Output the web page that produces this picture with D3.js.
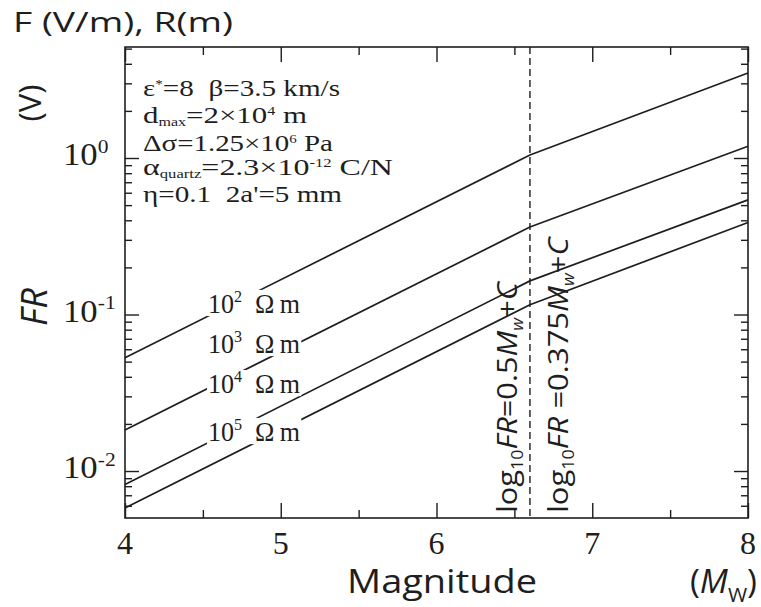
<!DOCTYPE html>
<html><head><meta charset="utf-8">
<script src="https://cdn.jsdelivr.net/npm/d3@7"></script>
<style>html,body{margin:0;padding:0;background:#fff;} svg{display:block;}</style>
</head><body><svg id="c" width="761" height="607"></svg>
<script>
// ---------------- data ----------------
const magnitudes = [4, 6.6, 8];
const resistivityExponents = ["2", "3", "4", "5"];
const frRho1e2 = [0.053, 1.045, 3.49];
const frRho1e3 = [0.0183, 0.362, 1.19];
const frRho1e4 = [0.0082, 0.164, 0.54];
const frRho1e5 = [0.0058, 0.1156, 0.387];
const breakMagnitude = 6.6;
const xMajorTicks = [4, 5, 6, 7, 8];
const xMinorTicks = [4.5, 5.5, 6.5, 7.5];
const xTickLabels = ["4", "5", "6", "7", "8"];
const yMajorTicks = [0.01, 0.1, 1];
const yTickExponents = ["-2", "-1", "0"];
const yMinorTicks = [0.006, 0.007, 0.008, 0.009,
  0.02, 0.03, 0.04, 0.05, 0.06, 0.07, 0.08, 0.09,
  0.2, 0.3, 0.4, 0.5, 0.6, 0.7, 0.8, 0.9, 2, 3, 4, 5];
const xDomain = [4, 8];
const yDomain = [0.00501, 5.12];

// ---------------- layout ----------------
const W = 761, H = 607;
const plot = {left: 125, right: 748, top: 47, bottom: 518};
const ink = "#1e1e1e";
const serif = "'Liberation Serif','Times New Roman',serif";
const sans = "'Open Sans','Noto Sans','DejaVu Sans',sans-serif";

const svg = d3.select("#c");
svg.append("rect").attr("width", W).attr("height", H).attr("fill", "#fff");

const x = d3.scaleLinear().domain(xDomain).range([plot.left, plot.right]);
const y = d3.scaleLog().domain(yDomain).range([plot.bottom, plot.top]);

function rich(sel, parts, size, opt) {
  const o = Object.assign({supShift: 0.40, subShift: 0.28, small: 0.62}, opt || {});
  let shift = 0;
  parts.forEach(p => {
    const ts = sel.append("tspan").text(p.t);
    const target = p.sup ? -size * o.supShift : (p.sub ? size * o.subShift : 0);
    ts.attr("dy", target - shift);
    shift = target;
    if (p.sup || p.sub) ts.attr("font-size", size * o.small);
    if (p.it) ts.attr("font-style", "italic");
  });
}
function fitScale(sel, target) {
  const w = sel.node().getComputedTextLength();
  return target / w;
}

// ---------------- frame + ticks ----------------
svg.append("rect")
  .attr("x", plot.left).attr("y", plot.top)
  .attr("width", plot.right - plot.left).attr("height", plot.bottom - plot.top)
  .attr("fill", "none").attr("stroke", ink).attr("stroke-width", 1.6);

function addAxis(axis, tx, ty) {
  const g = svg.append("g").attr("transform", `translate(${tx},${ty})`).call(axis);
  g.select(".domain").remove();
  g.selectAll("text").remove();
  g.selectAll(".tick line").attr("stroke", ink).attr("stroke-width", 1.4);
}
addAxis(d3.axisBottom(x).tickValues(xMajorTicks).tickSize(-15).tickFormat(""), 0, plot.bottom);
addAxis(d3.axisBottom(x).tickValues(xMinorTicks).tickSize(-8).tickFormat(""), 0, plot.bottom);
addAxis(d3.axisTop(x).tickValues(xMajorTicks).tickSize(-15).tickFormat(""), 0, plot.top);
addAxis(d3.axisTop(x).tickValues(xMinorTicks).tickSize(-8).tickFormat(""), 0, plot.top);
addAxis(d3.axisLeft(y).tickValues(yMajorTicks).tickSize(-14).tickFormat(""), plot.left, 0);
addAxis(d3.axisLeft(y).tickValues(yMinorTicks).tickSize(-7).tickFormat(""), plot.left, 0);
addAxis(d3.axisRight(y).tickValues(yMajorTicks).tickSize(-14).tickFormat(""), plot.right, 0);
addAxis(d3.axisRight(y).tickValues(yMinorTicks).tickSize(-7).tickFormat(""), plot.right, 0);

// x tick labels
xMajorTicks.forEach((v, i) => {
  svg.append("text").attr("x", x(v)).attr("y", 554)
    .attr("text-anchor", "middle").attr("font-family", serif).attr("font-size", 32)
    .attr("fill", ink).text(xTickLabels[i]);
});
// y tick labels
yMajorTicks.forEach((v, i) => {
  const t = svg.append("text").attr("x", 0).attr("y", 0)
    .attr("font-family", serif).attr("font-size", 31).attr("fill", ink);
  rich(t, [{t: "10"}, {t: yTickExponents[i], sup: true}], 31);
  t.attr("transform", `translate(63,${y(v) + 7}) scale(1.12,1)`);
});

// ---------------- curves ----------------
const series = [frRho1e2, frRho1e3, frRho1e4, frRho1e5];
const line = d3.line().x(d => x(d[0])).y(d => y(d[1]));
series.forEach(vals => {
  svg.append("path").attr("d", line(magnitudes.map((m, i) => [m, vals[i]])))
    .attr("fill", "none").attr("stroke", ink).attr("stroke-width", 1.7);
});

// dashed vertical line
svg.append("line")
  .attr("x1", x(breakMagnitude)).attr("x2", x(breakMagnitude))
  .attr("y1", plot.top).attr("y2", plot.bottom)
  .attr("stroke", ink).attr("stroke-width", 1.4).attr("stroke-dasharray", "7,4");

// ---------------- curve labels ----------------
const labelY = [313, 353, 393, 441];
resistivityExponents.forEach((e, i) => {
  const g = svg.append("g");
  const t = g.append("text").attr("x", 0).attr("y", 0)
    .attr("font-family", serif).attr("font-size", 27).attr("fill", ink);
  rich(t, [{t: "10"}, {t: e, sup: true}, {t: "\u00a0\u00a0\u03a9\u2009m"}], 27);
  const k = fitScale(t, 92);
  g.attr("transform", `translate(208,${labelY[i]}) scale(${k},1)`);
  const bb = t.node().getBBox();
  g.insert("rect", "text").attr("x", bb.x - 1).attr("y", bb.y + 3)
    .attr("width", bb.width + 2).attr("height", bb.height - 6).attr("fill", "#fff");
});

// ---------------- parameter annotation ----------------
const annot = [
  {y: 96, w: 197, parts: [{t: "\u03b5"}, {t: "*", sup: true}, {t: "=8\u00a0\u00a0\u03b2=3.5 km/s"}]},
  {y: 123, w: 164, parts: [{t: "d"}, {t: "max", sub: true}, {t: "=2\u00d710"}, {t: "4", sup: true}, {t: " m"}]},
  {y: 151, w: 190, parts: [{t: "\u0394\u03c3=1.25\u00d710"}, {t: "6", sup: true}, {t: " Pa"}]},
  {y: 175, w: 250, parts: [{t: "\u03b1"}, {t: "quartz", sub: true}, {t: "=2.3\u00d710"}, {t: "-12", sup: true}, {t: " C/N"}]},
  {y: 202, w: 199, parts: [{t: "\u03b7=0.1\u00a0\u00a02a'=5 mm"}]}
];
annot.forEach(a => {
  const t = svg.append("text").attr("font-family", serif).attr("font-size", 24).attr("fill", ink);
  rich(t, a.parts, 24, {supShift: 0.34, subShift: 0.12, small: 0.52});
  const k = fitScale(t, a.w);
  t.attr("transform", `translate(143,${a.y}) scale(${k},1)`);
});

// ---------------- rotated formulas ----------------
function formula(parts, bx, by, len, size) {
  const t = svg.append("text").attr("font-family", sans).attr("font-size", size).attr("fill", ink);
  rich(t, parts, size, {subShift: 0.22, small: 0.58});
  const k = fitScale(t, len);
  t.attr("transform", `translate(${bx},${by}) rotate(-90) scale(${k},1)`);
}
formula([{t: "log"}, {t: "10", sub: true}, {t: "FR", it: true}, {t: "=0.5"}, {t: "M", it: true}, {t: "w", sub: true, it: true}, {t: "+"}, {t: "C", it: true}],
  517, 513, 231, 27);
formula([{t: "log"}, {t: "10", sub: true}, {t: "FR", it: true}, {t: "\u00a0=0.375"}, {t: "M", it: true}, {t: "w", sub: true, it: true}, {t: "+"}, {t: "C", it: true}],
  568, 513, 276, 27);

// ---------------- axis titles ----------------
{
  const t = svg.append("text").attr("font-family", sans).attr("font-size", 28).attr("fill", ink)
    .text("F (V/m), R(m)");
  const k = fitScale(t, 220);
  t.attr("transform", `translate(13,32) scale(${k},1)`);
}
{
  const t = svg.append("text").attr("font-family", sans).attr("font-size", 31).attr("fill", ink)
    .attr("text-anchor", "middle").text("(V)");
  t.attr("transform", `translate(41,103) rotate(-90)`);
}
{
  const t = svg.append("text").attr("font-family", sans).attr("font-size", 36).attr("fill", ink)
    .attr("font-style", "italic").attr("text-anchor", "middle").text("FR");
  t.attr("transform", `translate(47,307) rotate(-90)`);
}
{
  const t = svg.append("text").attr("font-family", sans).attr("font-size", 29).attr("fill", ink)
    .attr("text-anchor", "middle").text("Magnitude");
  const k = fitScale(t, 190);
  t.attr("transform", `translate(442,593) scale(${k},1.1)`);
}
{
  const t = svg.append("text").attr("font-family", sans).attr("font-size", 29).attr("fill", ink);
  rich(t, [{t: "("}, {t: "M", it: true}, {t: "W", sub: true}, {t: ")"}], 29);
  const k = fitScale(t, 67);
  t.attr("transform", `translate(690,593) scale(${k},1.1)`);
}
</script></body></html>
